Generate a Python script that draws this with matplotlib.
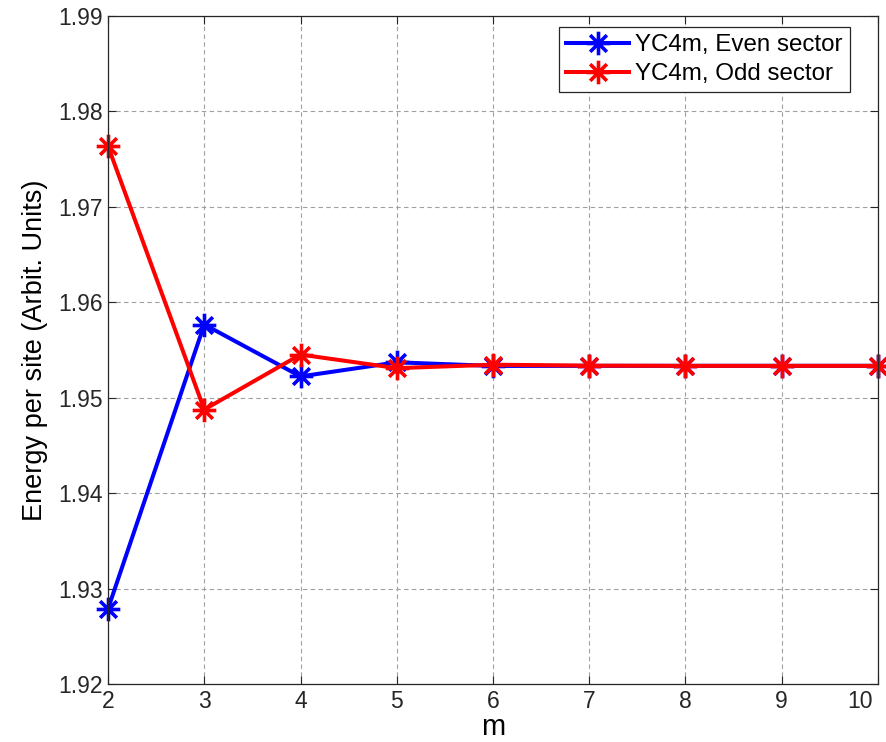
# Energy per site vs m for the YC4m cylinder, even/odd sectors

import matplotlib
matplotlib.use('Agg')
import matplotlib.pyplot as plt
from matplotlib.path import Path
from matplotlib.transforms import ScaledTranslation
import numpy as np

m_values = [2, 3, 4, 5, 6, 7, 8, 9, 10]
even_sector = [1.92788, 1.95767, 1.95223, 1.95371, 1.95333, 1.95334, 1.95334, 1.95334, 1.95334]
odd_sector = [1.97636, 1.94876, 1.95452, 1.95310, 1.95346, 1.95336, 1.95334, 1.95334, 1.95334]

xticks = [2, 3, 4, 5, 6, 7, 8, 9, 10]
yticks = [1.92, 1.93, 1.94, 1.95, 1.96, 1.97, 1.98, 1.99]

plt.rcParams['font.family'] = ['Liberation Sans', 'DejaVu Sans']

# MATLAB style '*' marker: plus and cross overlaid
d = np.sqrt(0.5)
verts = [(-1, 0), (1, 0), (0, -1), (0, 1), (-d, -d), (d, d), (-d, d), (d, -d)]
codes = [Path.MOVETO, Path.LINETO] * 4
star = Path(verts, codes)

fig = plt.figure(figsize=(8.87, 7.42), dpi=100)
ax = fig.add_axes([0.1218, 0.0782, 0.868, 0.9002])

ax.plot(m_values, even_sector, color='#0000ff', lw=2.9, marker=star,
        markersize=17, markeredgewidth=2.6, label='YC4m, Even sector', clip_on=False)
ax.plot(m_values, odd_sector, color='#ff0000', lw=2.9, marker=star,
        markersize=17, markeredgewidth=2.6, label='YC4m, Odd sector', clip_on=False)

ax.set_xlim(2, 10)
ax.set_ylim(1.92, 1.99)
ax.set_xticks(xticks)
ax.set_yticks(yticks)
ax.set_yticklabels(['%.2f' % v for v in yticks])
ax.tick_params(which='major', direction='in', length=6, width=0.8,
               top=True, right=True, labelsize=16.5, colors='#262626', pad=4)
ax.grid(True, ls=(0, (4, 3)), color='#a0a0a0', lw=0.8)
for s in ax.spines.values():
    s.set_color('#262626')
    s.set_linewidth(0.9)

# last x label pulled inside the figure, like the reference
last = ax.xaxis.get_major_ticks()[-1].label1
last.set_horizontalalignment('right')
last.set_transform(last.get_transform() + ScaledTranslation(-0.05, 0, fig.dpi_scale_trans))

ax.set_xlabel('m', fontsize=21, labelpad=0)
ax.set_ylabel('Energy per site (Arbit. Units)', fontsize=19.5, labelpad=7)

leg = ax.legend(loc='upper right', bbox_to_anchor=(0.9636, 0.984), fontsize=17.4,
                fancybox=False, framealpha=1, edgecolor='#262626', borderpad=0.3,
                labelspacing=0.3, handlelength=2.6, handletextpad=0.25,
                borderaxespad=0)
leg.get_frame().set_linewidth(0.9)

fig.savefig('out.png', dpi=100)
